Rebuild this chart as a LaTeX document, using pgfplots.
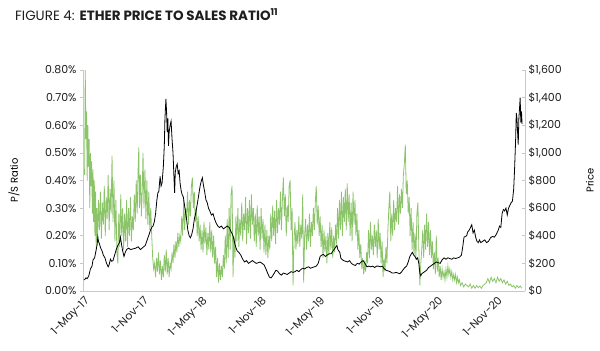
\documentclass[border=0pt]{standalone}
\usepackage{fontspec}
\setmainfont{Poppins}
\usepackage{pgfplots}
\pgfplotsset{compat=1.18}
\definecolor{psgreen}{RGB}{140,196,106}
\definecolor{axgray}{RGB}{200,200,200}
\definecolor{txt}{RGB}{30,30,30}
\begin{document}
\begin{tikzpicture}
\useasboundingbox (-83bp,-60bp) rectangle (517bp,291bp);
\pgfplotsset{
 common/.style={
  scale only axis, width=442bp, height=221bp, at={(0,0)}, anchor=south west,
  xmin=-3, xmax=1367,
  /pgf/number format/assume math mode=true,
  /pgf/number format/1000 sep={,},
  tick label style={font=\fontsize{11}{13}\selectfont, text=txt},
  label style={font=\fontsize{11.5}{13}\selectfont, text=txt},
  axis line style={axgray, line width=0.8bp},
  major tick length=3bp,
  every tick/.style={axgray, line width=0.6bp},
 }}
\begin{axis}[common,
  ymin=0, ymax=0.8,
  axis y line*=left, axis x line*=bottom,
  ytick={0,0.1,0.2,0.3,0.4,0.5,0.6,0.7,0.8},
  yticklabel={\pgfmathprintnumber[fixed,fixed zerofill,precision=2]{\tick}\%},
  xtick={0,184,365,549,730,914,1096,1280},
  xticklabels={1-May-17,1-Nov-17,1-May-18,1-Nov-18,1-May-19,1-Nov-19,1-May-20,1-Nov-20},
  xticklabel style={rotate=45, anchor=north east, inner sep=1bp},
  x tick style={draw=none},
  tick align=outside,
  ylabel={P/S Ratio},
  every axis y label/.style={at={(axis description cs:-0.156,0.5)}, anchor=center, rotate=90},
]
\addplot[psgreen, line width=0.8bp] coordinates {
(2,0.42)(4,0.80)(6,0.55)(8,0.65)(10,0.40)(12,0.60)(14,0.45)(16,0.55)(18,0.30)(20,0.50)
(22,0.38)(24,0.47)(26,0.28)(28,0.44)(30,0.25)(32,0.40)(34,0.20)(36,0.36)(38,0.15)(40,0.30)
(42,0.18)(45,0.33)(48,0.22)(51,0.36)(54,0.19)(57,0.32)(60,0.24)(63,0.38)(66,0.20)(69,0.34)
(72,0.26)(75,0.42)(78,0.22)(81,0.37)(84,0.28)(87,0.49)(90,0.25)(93,0.40)(96,0.18)(99,0.33)
(102,0.14)(105,0.10)(108,0.28)(111,0.16)(114,0.35)(117,0.20)(120,0.30)(123,0.15)(126,0.28)(129,0.18)
(132,0.33)(135,0.16)(138,0.30)(141,0.20)(144,0.34)(147,0.18)(150,0.27)(153,0.22)(156,0.35)(159,0.25)
(162,0.40)(165,0.28)(168,0.45)(170,0.52)(172,0.30)(175,0.42)(178,0.27)(181,0.38)(183,0.50)(186,0.30)
(189,0.44)(192,0.26)(195,0.40)(198,0.24)(201,0.36)(204,0.22)(207,0.30)(210,0.20)(213,0.12)(216,0.08)
(219,0.10)(222,0.05)(225,0.12)(228,0.07)(231,0.14)(234,0.06)(237,0.11)(240,0.04)(243,0.09)(246,0.05)
(249,0.13)(252,0.07)(255,0.15)(258,0.06)(261,0.12)(264,0.05)(267,0.10)(270,0.08)(273,0.14)(276,0.10)
(279,0.17)(282,0.12)(285,0.18)(288,0.14)(291,0.21)(294,0.16)(297,0.20)(300,0.18)(303,0.27)(306,0.20)
(309,0.33)(312,0.22)(315,0.30)(318,0.26)(321,0.36)(324,0.24)(327,0.33)(330,0.27)(333,0.38)(336,0.41)
(339,0.30)(342,0.36)(345,0.25)(348,0.30)(351,0.20)(354,0.27)(357,0.18)(360,0.24)(363,0.15)(366,0.22)
(369,0.14)(372,0.25)(375,0.17)(378,0.23)(381,0.13)(384,0.21)(387,0.15)(390,0.25)(393,0.14)(396,0.22)
(399,0.12)(402,0.20)(405,0.10)(408,0.16)(411,0.05)(414,0.12)(417,0.03)(420,0.10)(423,0.04)(426,0.09)
(429,0.05)(432,0.13)(435,0.08)(438,0.20)(441,0.10)(444,0.26)(447,0.12)(450,0.30)(453,0.15)(456,0.35)
(459,0.38)(462,0.05)(465,0.20)(468,0.12)(471,0.27)(474,0.18)(477,0.30)(480,0.16)(483,0.26)(486,0.20)
(489,0.32)(492,0.18)(495,0.28)(498,0.22)(501,0.34)(504,0.17)(507,0.30)(510,0.21)(513,0.33)(516,0.19)
(519,0.35)(522,0.24)(525,0.30)(528,0.18)(531,0.28)(534,0.16)(537,0.31)(540,0.20)(543,0.27)(546,0.15)
(549,0.30)(552,0.19)(555,0.26)(558,0.14)(561,0.24)(564,0.13)(567,0.22)(570,0.12)(573,0.20)(576,0.15)
(579,0.28)(582,0.18)(585,0.31)(588,0.20)(591,0.29)(594,0.17)(597,0.33)(600,0.21)(603,0.30)(606,0.24)
(609,0.36)(612,0.22)(615,0.33)(618,0.41)(621,0.27)(624,0.35)(627,0.20)(630,0.31)(633,0.25)(636,0.38)
(639,0.40)(642,0.22)(645,0.30)(648,0.02)(651,0.18)(654,0.25)(657,0.15)(660,0.22)(663,0.17)(666,0.27)
(669,0.16)(672,0.24)(675,0.19)(678,0.35)(681,0.03)(684,0.20)(687,0.26)(690,0.15)(693,0.24)(696,0.18)
(699,0.28)(702,0.16)(705,0.25)(708,0.20)(711,0.30)(714,0.22)(717,0.32)(720,0.38)(723,0.24)(726,0.31)
(729,0.20)(732,0.27)(735,0.16)(738,0.24)(741,0.12)(744,0.22)(747,0.14)(750,0.20)(753,0.10)(756,0.21)
(759,0.13)(762,0.25)(765,0.15)(768,0.23)(771,0.12)(774,0.20)(777,0.14)(780,0.24)(783,0.17)(786,0.30)
(789,0.19)(792,0.33)(795,0.22)(798,0.36)(801,0.20)(804,0.34)(807,0.25)(810,0.37)(813,0.22)(816,0.39)
(819,0.25)(822,0.35)(825,0.20)(828,0.32)(831,0.18)(834,0.36)(837,0.24)(840,0.33)(843,0.20)(846,0.28)
(849,0.15)(852,0.22)(855,0.12)(858,0.17)(861,0.08)(864,0.12)(867,0.06)(870,0.10)(873,0.07)(876,0.14)
(879,0.10)(882,0.22)(885,0.12)(888,0.25)(891,0.15)(894,0.20)(897,0.13)(900,0.24)(903,0.16)(906,0.22)
(909,0.12)(912,0.26)(915,0.15)(918,0.21)(921,0.10)(924,0.18)(927,0.05)(930,0.12)(933,0.07)(936,0.16)
(939,0.10)(942,0.22)(945,0.30)(948,0.36)(951,0.18)(954,0.28)(957,0.20)(960,0.33)(963,0.22)(966,0.30)
(969,0.25)(972,0.38)(975,0.24)(978,0.35)(981,0.28)(984,0.37)(987,0.30)(990,0.42)(993,0.46)(996,0.53)
(999,0.35)(1002,0.40)(1005,0.28)(1008,0.34)(1011,0.20)(1014,0.30)(1017,0.15)(1020,0.25)(1023,0.13)(1026,0.21)
(1029,0.12)(1032,0.28)(1035,0.32)(1038,0.15)(1041,0.02)(1044,0.10)(1047,0.15)(1050,0.22)(1053,0.12)(1056,0.24)
(1059,0.15)(1062,0.28)(1065,0.16)(1068,0.25)(1071,0.13)(1074,0.22)(1077,0.12)(1080,0.18)(1083,0.08)(1086,0.14)
(1089,0.06)(1092,0.20)(1095,0.07)(1098,0.12)(1101,0.05)(1104,0.09)(1107,0.04)(1110,0.08)(1113,0.05)(1116,0.07)
(1119,0.04)(1122,0.08)(1125,0.05)(1128,0.09)(1131,0.06)(1134,0.08)(1137,0.05)(1140,0.07)(1143,0.04)(1146,0.06)
(1149,0.04)(1152,0.06)(1155,0.03)(1158,0.05)(1161,0.03)(1164,0.04)(1167,0.02)(1172,0.03)(1177,0.015)(1182,0.025)
(1187,0.02)(1192,0.015)(1197,0.025)(1202,0.01)(1207,0.02)(1212,0.01)(1217,0.02)(1222,0.012)(1227,0.018)(1232,0.01)
(1237,0.02)(1242,0.025)(1247,0.03)(1252,0.045)(1257,0.03)(1262,0.05)(1267,0.035)(1272,0.045)(1277,0.03)(1282,0.05)
(1287,0.035)(1292,0.045)(1297,0.03)(1302,0.04)(1307,0.025)(1312,0.035)(1317,0.02)(1322,0.025)(1327,0.015)(1332,0.02)
(1337,0.01)(1342,0.02)(1347,0.012)(1352,0.018)(1357,0.01)
};
\end{axis}
\begin{axis}[common,
  ymin=0, ymax=1600,
  axis y line*=right, axis x line=none,
  ytick={0,200,400,600,800,1000,1200,1400,1600},
  yticklabel={\$\pgfmathprintnumber{\tick}},
  tick align=inside,
  ylabel={Price},
  every axis y label/.style={at={(axis description cs:1.147,0.5)}, anchor=center, rotate=90},
]
\addplot[black, line width=0.8bp] coordinates {
(0,80)(3,85)(6,95)(10,90)(15,110)(20,160)(25,180)(28,225)(33,240)(38,300)
(41,340)(43,390)(45,360)(48,340)(52,310)(56,290)(60,260)(65,240)(70,200)(75,175)
(78,190)(82,230)(86,215)(90,220)(95,260)(100,300)(105,330)(110,350)(113,390)(117,330)
(120,290)(124,250)(128,280)(132,300)(138,310)(145,300)(152,305)(160,310)(168,320)(175,300)
(180,310)(185,320)(190,330)(196,370)(202,410)(206,440)(210,460)(214,470)(218,500)(222,560)
(226,660)(229,710)(232,720)(236,830)(239,760)(242,780)(246,900)(249,1050)(251,1250)(254,1390)
(256,1300)(258,1150)(260,1250)(262,1050)(264,1150)(267,1200)(270,1230)(273,1100)(276,1000)(279,820)
(281,710)(283,860)(286,900)(289,920)(292,850)(295,870)(298,780)(301,730)(304,700)(308,680)
(313,600)(318,520)(322,440)(326,400)(330,385)(334,410)(338,450)(342,520)(346,560)(349,600)
(352,640)(356,700)(360,760)(364,800)(367,820)(370,770)(374,720)(378,660)(382,640)(386,600)
(390,580)(395,550)(400,560)(405,520)(410,490)(415,470)(420,460)(426,470)(432,450)(438,460)
(444,470)(450,460)(456,430)(462,400)(466,360)(470,320)(475,290)(480,280)(486,260)(492,230)
(498,210)(504,220)(510,200)(516,210)(522,220)(528,210)(534,200)(540,205)(546,210)(552,200)
(558,190)(564,160)(570,125)(575,100)(580,95)(585,110)(590,130)(595,150)(600,145)(606,125)
(612,115)(618,130)(624,125)(630,120)(636,130)(642,140)(648,135)(654,140)(660,150)(666,140)
(672,155)(678,165)(684,160)(690,170)(696,175)(702,165)(708,170)(714,175)(720,180)(726,200)
(732,250)(737,260)(742,265)(748,250)(754,260)(760,270)(766,270)(772,290)(778,310)(781,320)
(784,330)(787,300)(790,290)(793,280)(796,240)(799,230)(805,220)(811,215)(817,210)(823,220)
(829,200)(835,190)(841,185)(847,200)(853,195)(859,210)(865,220)(871,200)(877,175)(883,180)
(889,175)(895,180)(901,170)(907,180)(913,180)(919,175)(925,180)(931,160)(937,150)(943,145)
(949,140)(955,130)(961,130)(967,135)(973,130)(979,125)(985,140)(991,160)(997,175)(1000,180)
(1005,210)(1010,250)(1015,270)(1018,280)(1022,260)(1026,250)(1030,230)(1034,240)(1038,200)(1041,130)
(1044,110)(1047,125)(1050,130)(1056,140)(1062,150)(1068,170)(1074,180)(1080,190)(1086,200)(1092,210)
(1098,205)(1104,200)(1110,225)(1116,240)(1122,230)(1128,240)(1134,235)(1140,230)(1146,240)(1152,235)
(1158,240)(1164,245)(1170,260)(1174,320)(1178,390)(1182,395)(1186,400)(1190,430)(1194,440)(1198,460)
(1202,480)(1206,420)(1210,440)(1214,390)(1218,360)(1222,350)(1226,370)(1230,350)(1236,360)(1242,370)
(1248,350)(1254,360)(1260,385)(1266,395)(1272,390)(1278,410)(1284,440)(1288,470)(1292,460)(1296,560)
(1300,590)(1304,580)(1308,600)(1312,550)(1316,600)(1320,620)(1324,640)(1328,650)(1332,740)(1335,900)
(1338,1100)(1340,1290)(1342,1250)(1344,1150)(1346,1060)(1348,1250)(1350,1320)(1352,1400)(1354,1220)(1356,1300)
(1358,1210)
};
\end{axis}
\node[anchor=west, text=txt, font=\fontsize{13.5}{16}\selectfont, inner sep=0pt] at (-68bp,276bp)
  {FIGURE 4: \textbf{ETHER PRICE TO SALES RATIO\textsuperscript{11}}};
\end{tikzpicture}
\end{document}
